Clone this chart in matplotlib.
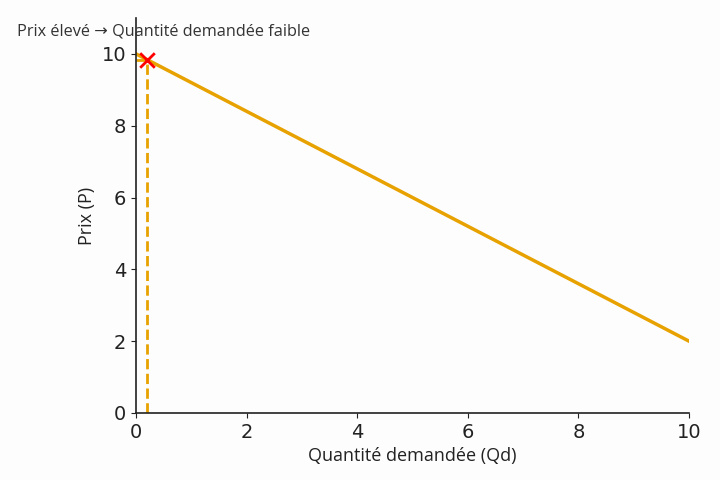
import matplotlib.pyplot as plt
import numpy as np

# donnees
qd = [0, 10]
prix = [10, 2]
q_point = 0.2
p_point = 9.84

fig = plt.figure(figsize=(7.2, 4.8), dpi=100)
fig.patch.set_facecolor('#fdfdfd')
ax = fig.add_axes([0.189, 0.1396, 0.768, 0.8229])
ax.set_facecolor('#fdfdfd')

orange = '#e8a200'
ax.plot(qd, prix, color=orange, linewidth=2.5)
ax.plot([q_point, q_point], [0, p_point], color=orange, linestyle='--', linewidth=2)
ax.plot([0, q_point], [p_point, p_point], color=orange, linestyle='--', linewidth=2)
ax.scatter([q_point], [p_point], color='red', marker='x', s=110, linewidths=2, zorder=5)

ax.set_xlim(0, 10)
ax.set_ylim(0, 11)
ax.set_xticks([0, 2, 4, 6, 8, 10])
ax.set_yticks([0, 2, 4, 6, 8, 10])
ax.tick_params(labelsize=14, colors='#222222')
ax.spines['top'].set_visible(False)
ax.spines['right'].set_visible(False)
for s in ['left', 'bottom']:
    ax.spines[s].set_color('#222222')
    ax.spines[s].set_linewidth(1.2)

ax.set_xlabel('Quantité demandée (Qd)', fontsize=13, family='Open Sans', color='#222222')
ax.set_ylabel('Prix (P)', fontsize=13, family='Open Sans', color='#222222')
fig.text(0.024, 0.935, 'Prix élevé → Quantité demandée faible', fontsize=11.7,
         family=['Open Sans', 'DejaVu Sans'], color='#333333', va='center')

fig.savefig('out.png', dpi=100, facecolor='#fdfdfd')
